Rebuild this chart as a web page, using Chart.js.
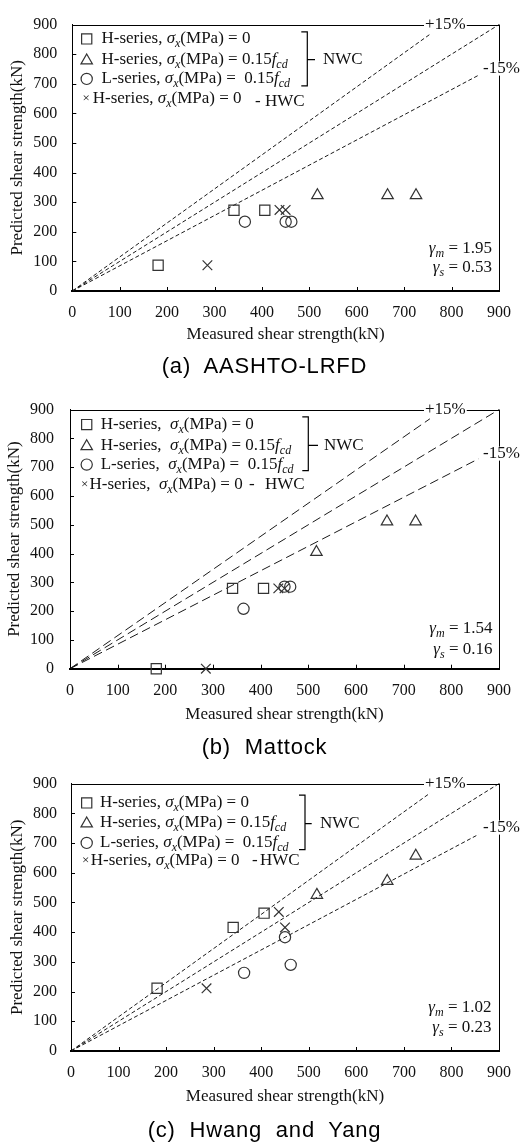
<!DOCTYPE html>
<html><head><meta charset="utf-8">
<script src="https://cdn.jsdelivr.net/npm/chart.js@4.4.0/dist/chart.umd.min.js"></script>
<style>
html,body{margin:0;padding:0;background:#fff;}
body{width:523px;height:1144px;position:relative;overflow:hidden;}
canvas{position:absolute;left:0;}
.cap{position:absolute;left:3px;width:523px;text-align:center;font-family:"Liberation Sans",Arial,sans-serif;font-size:22px;letter-spacing:0.8px;color:#000;line-height:24px;white-space:pre;}
</style></head><body>
<canvas id="ca" width="523" height="360" style="top:0px"></canvas>
<canvas id="cb" width="523" height="360" style="top:384px"></canvas>
<canvas id="cc" width="523" height="360" style="top:760px"></canvas>
<div class="cap" id="capa" style="top:354px"></div>
<div class="cap" id="capb" style="top:735px"></div>
<div class="cap" id="capc" style="top:1118px"></div>
<script>
// ---------- DATA ----------
const captions = ['(a)  AASHTO-LRFD', '(b)  Mattock', '(c)  Hwang  and  Yang'];
const tickValues = [0, 100, 200, 300, 400, 500, 600, 700, 800, 900];

// measured shear strength (kN)
const measuredH0   = [181, 341, 406];   // H-series, sigma = 0 (NWC)
const measuredH015 = [517, 665, 725];   // H-series, sigma = 0.15 fcd (NWC)
const measuredL015 = [364, 450, 462];   // L-series, sigma = 0.15 fcd (NWC)
const measuredHWC  = [285, 437, 450];   // H-series, sigma = 0 (HWC)

// predicted shear strength (kN) - AASHTO-LRFD
const aashtoH0   = [87, 273, 273];
const aashtoH015 = [323, 323, 323];
const aashtoL015 = [234, 234, 234];
const aashtoHWC  = [87, 274, 274];

// predicted - Mattock
const mattockH0   = [0, 279, 279];
const mattockH015 = [405, 511, 511];
const mattockL015 = [208, 285, 285];
const mattockHWC  = [0, 279, 279];

// predicted - Hwang and Yang
const hyH0   = [211, 416, 464];
const hyH015 = [525, 572, 657];
const hyL015 = [263, 383, 290];
const hyHWC  = [211, 468, 416];

// reference lines (x, y)
const plus15X  = [0, 755], plus15Y  = [0, 868];
const equalX   = [0, 900], equalY   = [0, 900];
const minus15X = [0, 857], minus15Y = [0, 729];

const gammaM = ['1.95', '1.54', '1.02'];
const gammaS = ['0.53', '0.16', '0.23'];

// ---------- DRAWING ----------
const SERIF = '"Liberation Serif","Times New Roman",serif';
const INK = '#111';
const MARK = '#333';
const H = 360;

function fontStr(size, italic) { return (italic ? 'italic ' : '') + size + 'px ' + SERIF; }
function segFont(k, size) { return k === 's' ? fontStr(Math.round(size * 0.72), true) : fontStr(size, k === 'i'); }
function drawRich(ctx, x, y, segs, size, align) {
  const widths = segs.map(([t, k]) => { ctx.font = segFont(k, size); return ctx.measureText(t).width; });
  const total = widths.reduce((a, b) => a + b, 0);
  let cx = align === 'right' ? x - total : x;
  ctx.textAlign = 'left'; ctx.textBaseline = 'middle'; ctx.fillStyle = INK;
  segs.forEach(([t, k], i) => {
    ctx.font = segFont(k, size);
    ctx.fillText(t, cx, k === 's' ? y + size * 0.3 : y);
    cx += widths[i];
  });
  return cx;
}
function pts(xs, ys) { return xs.map((x, i) => ({ x: x, y: ys[i] })); }

const cfgs = [
  { id: 'ca', plotTop: 16.7, plotBottom: 291, left: 72.3, right: 503.3, xTitleY: 335, yTitleX: 18, yPad: 15,
    dash: [4, 2.5], preds: [aashtoH0, aashtoH015, aashtoL015, aashtoHWC],
    rows: [14.3, 35, 54.3, 74.3], sp: ' ', txtX: 101.5, l4X: 92.7, crossX: 82.5,
    br: { x: 307.3, top: 7.3, bot: 61.3, mid: 35, stub: 315, nwc: 323 }, hwc: { dash: 255, x: 265, dy: 3 },
    gam: [-42, -23], gamX: 492 },
  { id: 'cb', plotTop: 17, plotBottom: 284.7, left: 70, right: 506.7, xTitleY: 331, yTitleX: 15, yPad: 16,
    dash: [9, 4.5], preds: [mattockH0, mattockH015, mattockL015, mattockHWC],
    rows: [15, 35.7, 55, 74.7], sp: '  ', txtX: 100.7, l4X: 89.5, crossX: 81,
    br: { x: 308.3, top: 7.3, bot: 61, mid: 35.7, stub: 318, nwc: 324 }, hwc: { dash: 249, x: 265, dy: 0 },
    gam: [-40, -19], gamX: 492.5 },
  { id: 'cc', plotTop: 16.7, plotBottom: 291, left: 71, right: 505, xTitleY: 336.7, yTitleX: 18, yPad: 14,
    dash: [4, 2.5], preds: [hyH0, hyH015, hyL015, hyHWC],
    rows: [19.3, 39, 59.3, 77.3], sp: ' ', txtX: 100, l4X: 90.7, crossX: 82,
    br: { x: 305, top: 11.6, bot: 66, mid: 40, stub: 311.7, nwc: 320 }, hwc: { dash: 252, x: 260, dy: 0 },
    gam: [-43, -23], gamX: 491.5 }
];

const styles = [
  { pointStyle: 'rect', radius: 7.2 },
  { pointStyle: 'triangle', radius: 6.6 },
  { pointStyle: 'circle', radius: 5.6 },
  { pointStyle: 'crossRot', radius: 6.8 }
];
const measured = [measuredH0, measuredH015, measuredL015, measuredHWC];

cfgs.forEach((c, ci) => {
  document.getElementById('cap' + 'abc'[ci]).textContent = captions[ci];

  const lineDs = (xs, ys) => ({ type: 'scatter', data: pts(xs, ys), showLine: true, borderColor: '#1a1a1a',
    borderWidth: 1, borderDash: c.dash, pointRadius: 0, fill: false, clip: false, order: 2 });
  const datasets = [lineDs(plus15X, plus15Y), lineDs(equalX, equalY), lineDs(minus15X, minus15Y)];
  styles.forEach((s, i) => {
    datasets.push({ type: 'scatter', data: pts(measured[i], c.preds[i]), pointStyle: s.pointStyle,
      pointRadius: s.radius, pointBorderColor: MARK, pointBackgroundColor: 'rgba(0,0,0,0)',
      pointBorderWidth: 1.2, showLine: false, clip: false, order: 1 });
  });

  const decor = {
    id: 'decor' + ci,
    afterDatasetsDraw(chart) {
      const ctx = chart.ctx;
      const { left, right, top, bottom } = chart.chartArea;
      const xs = chart.scales.x, ys = chart.scales.y;
      ctx.save();
      ctx.strokeStyle = '#000'; ctx.lineWidth = 1;
      // inner ticks
      xs.ticks.forEach(t => {
        const px = Math.round(xs.getPixelForValue(t.value)) + 0.5;
        ctx.beginPath(); ctx.moveTo(px, bottom); ctx.lineTo(px, bottom - 4); ctx.stroke();
      });
      ys.ticks.forEach(t => {
        const py = Math.round(ys.getPixelForValue(t.value)) + 0.5;
        ctx.beginPath(); ctx.moveTo(left, py); ctx.lineTo(left + 4, py); ctx.stroke();
      });
      // top and right border
      ctx.beginPath();
      ctx.moveTo(left, Math.round(top) + 0.5); ctx.lineTo(right, Math.round(top) + 0.5);
      ctx.moveTo(Math.round(right) + 0.5, top); ctx.lineTo(Math.round(right) + 0.5, bottom);
      ctx.stroke();

      // +15% / -15% labels
      ctx.font = fontStr(17, false); ctx.textBaseline = 'middle'; ctx.textAlign = 'left';
      const lab = (txt, x, y) => {
        const w = ctx.measureText(txt).width;
        ctx.fillStyle = '#fff'; ctx.fillRect(x - 1, y - 7, w + 2, 14);
        ctx.fillStyle = INK; ctx.fillText(txt, x, y);
      };
      lab('+15%', 425, top);
      lab('-15%', 483, top + 44);

      // legend markers
      const r = c.rows.map(v => top + v);
      const mx = 86.7;
      ctx.strokeStyle = MARK; ctx.lineWidth = 1.2;
      for (let i = 0; i < 3; i++) {
        ctx.beginPath();
        if (styles[i].pointStyle === 'rect') { const h = styles[i].radius * Math.SQRT1_2; ctx.rect(mx - h, r[i] - h, 2 * h, 2 * h); }
        else if (styles[i].pointStyle === 'triangle') {
          const R = styles[i].radius;
          for (let k = 0; k < 3; k++) { const a = k * 2 * Math.PI / 3; const px = mx + Math.sin(a) * R, py = r[i] + 1 - Math.cos(a) * R; k ? ctx.lineTo(px, py) : ctx.moveTo(px, py); }
          ctx.closePath();
        } else { ctx.arc(mx, r[i], styles[i].radius, 0, Math.PI * 2); }
        ctx.stroke();
      }
      // legend text
      const series = c.sp === ' ' ? 'series, ' : 'series,  ';
      drawRich(ctx, c.txtX, r[0], [['H-' + series, ''], ['σ', 'i'], ['x', 's'], ['(MPa) = 0', '']], 17);
      let e = drawRich(ctx, c.txtX, r[1], [['H-' + series, ''], ['σ', 'i'], ['x', 's'], ['(MPa) = 0.15', '']], 17);
      drawRich(ctx, e, r[1], [['f', 'i'], ['cd', 's']], 17);
      e = drawRich(ctx, c.txtX, r[2], [['L-' + series, ''], ['σ', 'i'], ['x', 's'], ['(MPa) =  0.15', '']], 17);
      drawRich(ctx, e, r[2], [['f', 'i'], ['cd', 's']], 17);
      ctx.font = fontStr(13, false); ctx.fillStyle = INK; ctx.textBaseline = 'middle'; ctx.textAlign = 'left';
      ctx.fillText('×', c.crossX, r[3]);
      drawRich(ctx, c.l4X, r[3], [['H-' + series, ''], ['σ', 'i'], ['x', 's'], ['(MPa) = 0', '']], 17);
      ctx.font = fontStr(17, false); ctx.fillStyle = INK;
      ctx.fillText('-', c.hwc.dash, r[3] + c.hwc.dy);
      ctx.fillText('HWC', c.hwc.x, r[3] + c.hwc.dy);
      // bracket
      const b = c.br;
      ctx.strokeStyle = '#000'; ctx.lineWidth = 1.2;
      ctx.beginPath();
      ctx.moveTo(b.x - 6, top + b.top); ctx.lineTo(b.x, top + b.top); ctx.lineTo(b.x, top + b.bot); ctx.lineTo(b.x - 6, top + b.bot);
      ctx.moveTo(b.x, top + b.mid); ctx.lineTo(b.stub, top + b.mid);
      ctx.stroke();
      ctx.fillStyle = INK; ctx.font = fontStr(17, false);
      ctx.fillText('NWC', b.nwc, top + b.mid);

      // gamma statistics
      drawRich(ctx, c.gamX, bottom + c.gam[0], [['γ', 'i'], ['m', 's'], [' = ' + gammaM[ci], '']], 17, 'right');
      drawRich(ctx, c.gamX, bottom + c.gam[1], [['γ', 'i'], ['s', 's'], [' = ' + gammaS[ci], '']], 17, 'right');
      ctx.restore();
    }
  };

  new Chart(document.getElementById(c.id), {
    type: 'scatter',
    data: { datasets: datasets },
    plugins: [decor],
    options: {
      responsive: false, animation: false, devicePixelRatio: 1,
      layout: { padding: { top: c.plotTop, right: 523 - c.right, bottom: 0, left: 0 } },
      plugins: { legend: { display: false }, tooltip: { enabled: false } },
      scales: {
        x: {
          type: 'linear', min: 0, max: 900,
          afterBuildTicks(s) { s.ticks = tickValues.map(v => ({ value: v })); },
          ticks: { padding: 12, color: INK, font: { family: SERIF, size: 16 }, maxRotation: 0, autoSkip: false },
          grid: { display: false, drawTicks: false, tickLength: 0 },
          border: { display: true, color: '#000', width: 2 },
          title: { display: true, text: 'Measured shear strength(kN)', color: INK, font: { family: SERIF, size: 17 },
            padding: { top: 0, bottom: H - c.xTitleY - 10.2 } },
          afterFit(s) { s.height = H - c.plotBottom; }
        },
        y: {
          type: 'linear', min: 0, max: 900,
          afterBuildTicks(s) { s.ticks = tickValues.map(v => ({ value: v })); },
          ticks: { padding: c.yPad, color: INK, font: { family: SERIF, size: 16 }, autoSkip: false },
          grid: { display: false, drawTicks: false, tickLength: 0 },
          border: { display: true, color: '#000', width: 1 },
          title: { display: true, text: 'Predicted shear strength(kN)', color: INK, font: { family: SERIF, size: 17 },
            padding: { top: c.yTitleX - 10.2, bottom: 0 } },
          afterFit(s) { s.width = c.left; }
        }
      }
    }
  });
});
</script>
</body></html>
